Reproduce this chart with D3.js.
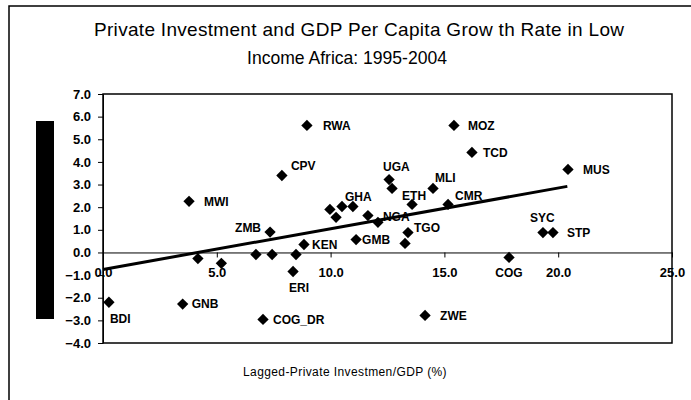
<!DOCTYPE html>
<html>
    <head>
        <meta charset="UTF-8">
        <script src="https://cdn.jsdelivr.net/npm/d3@7"></script>
        <title>Private Investment and GDP Per Capita Growth</title>
        <style>
            body { margin: 0; background: white; }
            text { font-family: "Liberation Sans", Arial, sans-serif; }
        </style>
    </head>
    <body>
        <div id="ChartContainer"></div>
    </body>
    <script>
        // country codes ("" = unlabelled point), lagged investment/GDP, growth rate
        const countries = ["BDI", "GNB", "MWI", "", "", "ZMB", "", "", "", "KEN", "ERI", "COG_DR",
            "RWA", "CPV", "", "", "", "GHA", "", "NGA", "GMB", "", "UGA", "ETH", "MLI", "CMR",
            "TGO", "", "ZWE", "MOZ", "TCD", "MUS", "SYC", "STP", "COG"]
        const investment = [0.26, 3.5, 3.78, 4.17, 5.2, 7.34, 6.72, 7.43, 8.48, 8.83, 8.35, 7.03,
            8.96, 7.86, 9.97, 10.24, 10.5, 10.98, 11.64, 12.08, 11.12, 12.7, 12.57, 13.58, 14.5, 15.16,
            13.4, 13.27, 14.15, 15.42, 16.21, 20.43, 19.33, 19.77, 17.84]
        const growth = [-2.2, -2.28, 2.26, -0.27, -0.48, 0.9, -0.09, -0.09, -0.09, 0.35, -0.84, -2.96,
            5.61, 3.4, 1.9, 1.55, 2.03, 2.03, 1.63, 1.33, 0.57, 2.83, 3.22, 2.12, 2.83, 2.12,
            0.88, 0.4, -2.78, 5.61, 4.42, 3.67, 0.88, 0.88, -0.22]

        const trendX = [0, 20.4]
        const trendY = [-0.75, 2.92]

        const xTicks = [0, 5, 10, 15, 20, 25]
        const yTicks = [-4, -3, -2, -1, 0, 1, 2, 3, 4, 5, 6, 7]

        // label offsets from the marker: [dx, dy, anchor]
        const labelPos = {
            "BDI": [1, 16, "start"], "GNB": [9, 0, "start"], "MWI": [15, 0, "start"],
            "ZMB": [-9, -4, "end"], "KEN": [8, 0, "start"], "ERI": [6, 16, "middle"],
            "COG_DR": [10, 0, "start"], "RWA": [16, 0, "start"], "CPV": [9, -10, "start"],
            "GHA": [-8, -10, "start"], "NGA": [5, -6, "start"], "GMB": [6, 0, "start"],
            "UGA": [-6, -13, "start"], "ETH": [-10, -9, "start"], "MLI": [2, -11, "start"],
            "CMR": [7, -9, "start"], "TGO": [6, -5, "start"], "ZWE": [15, 0, "start"],
            "MOZ": [14, 0, "start"], "TCD": [11, 0, "start"], "MUS": [15, 0, "start"],
            "SYC": [-13, -15, "start"], "STP": [14, 0, "start"], "COG": [0, 15, "middle"]
        }

        const width = 691
        const height = 400
        const plot = { left: 103, right: 672, top: 94, bottom: 343 }

        const svg = d3.select("#ChartContainer")
            .append("svg")
            .attr("width", width)
            .attr("height", height)

        // outer chart frame (bottom/right run off the picture)
        svg.append("path")
            .attr("d", "M9," + height + "V6H" + width)
            .attr("fill", "none")
            .attr("stroke", "black")
            .attr("stroke-width", 1.5)

        svg.append("rect")
            .attr("x", 36)
            .attr("y", 121)
            .attr("width", 18)
            .attr("height", 198)
            .attr("fill", "black")

        const title = svg.append("text")
            .attr("text-anchor", "middle")
            .style("font-size", "19px")
        title.append("tspan").attr("x", 359).attr("y", 36)
            .attr("textLength", 530).attr("lengthAdjust", "spacing")
            .text("Private Investment and GDP Per Capita Grow th Rate in Low")
        title.append("tspan").attr("x", 347).attr("y", 64)
            .attr("textLength", 200).attr("lengthAdjust", "spacingAndGlyphs")
            .text("Income Africa: 1995-2004")

        const x = d3.scaleLinear().domain([0, 25]).range([plot.left, plot.right])
        const y = d3.scaleLinear().domain([-4, 7]).range([plot.bottom, plot.top])

        svg.append("rect")
            .attr("x", plot.left)
            .attr("y", plot.top)
            .attr("width", plot.right - plot.left)
            .attr("height", plot.bottom - plot.top)
            .attr("fill", "none")
            .attr("stroke", "black")
            .attr("stroke-width", 1.5)

        svg.append("g")
            .attr("transform", "translate(" + plot.left + ",0)")
            .call(d3.axisLeft(y).tickValues(yTicks).tickFormat(d3.format(".1f"))
                .tickSize(5).tickSizeOuter(0).tickPadding(7))

        svg.append("g")
            .attr("transform", "translate(0," + y(0) + ")")
            .call(d3.axisBottom(x).tickValues(xTicks).tickFormat(d3.format(".1f"))
                .tickSize(5).tickSizeOuter(0).tickPadding(10))

        svg.selectAll(".tick text")
            .attr("fill", "black")
            .style("font-size", "13px")
            .style("font-weight", "bold")
            .style("font-family", "'Liberation Sans', Arial, sans-serif")
        svg.selectAll(".domain, .tick line").attr("stroke", "black")

        svg.append("line")
            .attr("x1", x(trendX[0]))
            .attr("y1", y(trendY[0]))
            .attr("x2", x(trendX[1]))
            .attr("y2", y(trendY[1]))
            .attr("stroke", "black")
            .attr("stroke-width", 3)

        const points = countries.map((c, i) => ({ name: c, x: investment[i], y: growth[i] }))
        const diamond = d3.symbol().type(d3.symbolSquare).size(64)

        svg.selectAll(".point")
            .data(points)
            .enter()
            .append("path")
            .attr("class", "point")
            .attr("d", diamond)
            .attr("transform", d => "translate(" + x(d.x) + "," + y(d.y) + ") rotate(45)")
            .attr("fill", "black")

        svg.selectAll(".label")
            .data(points.filter(d => d.name !== ""))
            .enter()
            .append("text")
            .attr("class", "label")
            .attr("x", d => x(d.x) + labelPos[d.name][0])
            .attr("y", d => y(d.y) + labelPos[d.name][1])
            .attr("dy", "0.36em")
            .attr("text-anchor", d => labelPos[d.name][2])
            .style("font-size", "12px")
            .style("font-weight", "bold")
            .text(d => d.name)

        svg.append("text")
            .attr("x", 345)
            .attr("y", 376)
            .attr("text-anchor", "middle")
            .style("font-size", "12px")
            .style("letter-spacing", "0.4px")
            .text("Lagged-Private Investmen/GDP (%)")
    </script>
</html>
